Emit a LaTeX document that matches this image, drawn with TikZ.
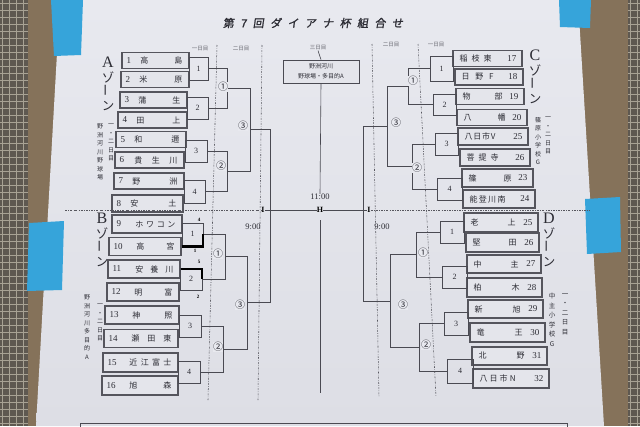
\documentclass[tikz,border=0pt]{standalone}
\usepackage{fontspec}
\newfontfamily\jp{Noto Sans CJK JP}
\newfontfamily\jpt[FakeBold=1.6,FakeSlant=0.15]{Noto Sans CJK JP}
\newfontfamily\ser{Liberation Serif}
\definecolor{posterT}{HTML}{E8E9EF}
\definecolor{posterB}{HTML}{DDDEE5}
\definecolor{boxc}{HTML}{E4E5EB}
\definecolor{linec}{HTML}{4A4A52}
\definecolor{boxl}{HTML}{55555D}
\definecolor{textc}{HTML}{2C2C34}
\definecolor{dotc}{HTML}{56565E}
\definecolor{woodc}{HTML}{85725A}
\definecolor{meshc}{HTML}{5E5850}
\definecolor{meshl}{HTML}{A8A294}
\definecolor{tapec}{HTML}{36A4DA}
\definecolor{greyt}{HTML}{66666E}
% left team: name, cx, cy, w, h, number, namewidth, text
\newcommand\lteam[8]{%
  \node[team, minimum width=#4pt, minimum height=#5pt] (#1) at (#2,#3) {};
  \node[teamnum, anchor=west] (#1n) at ([xshift=5pt]#1.west) {#6};
  \node[teamtxt, anchor=east] (#1t) at ([xshift=-7pt]#1.east) {\makebox[#7pt][s]{#8}};}
% right team
\newcommand\rteam[8]{%
  \node[team, minimum width=#4pt, minimum height=#5pt] (#1) at (#2,#3) {};
  \node[teamtxt, anchor=west] (#1t) at ([xshift=7pt]#1.west) {\makebox[#7pt][s]{#8}};
  \node[teamnum, anchor=east] (#1n) at ([xshift=-6pt]#1.east) {#6};}
\begin{document}
\begin{tikzpicture}[x=1pt,y=-1pt,
  team/.style={draw=boxl,line width=1.3pt,fill=boxc,inner sep=0pt},
  teamtxt/.style={text=textc,inner sep=0pt,font=\jp\fontsize{8}{8}\selectfont},
  teamnum/.style={text=textc,inner sep=0pt,font=\ser\fontsize{9}{9}\selectfont},
  matchb/.style={draw=linec,line width=0.6pt,inner sep=0pt,text=textc,font=\ser\fontsize{8}{8}\selectfont},
  conn/.style={draw=linec,line width=0.6pt},
  winl/.style={draw=black,line width=2.2pt},
  dotl/.style={draw=dotc,line width=0.55pt,dash pattern=on 2pt off 1.3pt on 0.6pt off 1.3pt},
  rnd/.style={text=textc,inner sep=0pt,font=\jp\fontsize{10}{10}\selectfont},
  zone/.style={text=textc,inner sep=0pt,align=center,font=\jp\fontsize{12.5}{14}\selectfont},
  venue/.style={text=textc,inner sep=0pt,align=center,font=\jp\fontsize{6}{8.5}\selectfont},
  dayl/.style={text=greyt,inner sep=0pt,font=\jp\fontsize{5.5}{5.5}\selectfont},
  timel/.style={text=textc,inner sep=0pt,font=\ser\fontsize{8.5}{8.5}\selectfont},
  marker/.style={text=black,inner sep=0pt,font=\ser\bfseries\fontsize{8}{8}\selectfont},
  score/.style={text=black,inner sep=0pt,font=\ser\bfseries\fontsize{5}{5}\selectfont}
]
\useasboundingbox (0,0) rectangle (640,426);
\clip (0,0) rectangle (640,426);
% ---------- background ----------
\fill[woodc] (0,0) rectangle (640,426);
\fill[meshc] (0,0) rectangle (28,426);
\fill[meshc] (628,0) rectangle (640,426);
\foreach \i in {2,9,...,28} {\draw[meshl,line width=0.4pt] (\i,0) -- (\i,426);}
\foreach \j in {3,10,...,426} {\draw[meshl,line width=0.4pt] (0,\j) -- (28,\j);}
\foreach \i in {630,637} {\draw[meshl,line width=0.4pt] (\i,0) -- (\i,426);}
\foreach \j in {3,10,...,426} {\draw[meshl,line width=0.4pt] (628,\j) -- (640,\j);}
\shade[top color=posterT,bottom color=posterB] (60,0) -- (578,0) -- (604,426) -- (36,426) -- cycle;
\fill[tapec] (51,0) -- (83,0) -- (81,55) -- (54,56) -- cycle;
\fill[tapec] (559,0) -- (591,0) -- (590,28) -- (560,27) -- cycle;
\fill[tapec] (29,223) -- (64,221) -- (62,290) -- (27,291) -- cycle;
\fill[tapec] (585,199) -- (620,197) -- (621,252) -- (587,254) -- cycle;
\draw[linec,line width=1pt] (80,445) -- (80,423) -- (567,423) -- (567,445);
% ---------- title, day labels ----------
\node[text=textc,inner sep=0pt,font=\jpt\fontsize{11}{11}\selectfont] (title) at (313,23)
  {\makebox[180pt][s]{第\hfill 7\hfill 回\hfill ダ\hfill イ\hfill ア\hfill ナ\hfill 杯\hfill 組\hfill 合\hfill せ}};
\node[dayl] (d1L) at (200,49) {一日目};
\node[dayl] (d2L) at (241,49) {二日目};
\node[dayl] (d3) at (318,48) {三日目};
\node[dayl] (d2R) at (391,45) {二日目};
\node[dayl] (d1R) at (436,45) {一日目};
% dotted day separators
\draw[dotl] (217,45) -- (208,400);
\draw[dotl] (262,45) -- (258,400);
\draw[dotl] (372,44) -- (379,397);
\draw[dotl] (418,44) -- (436,397);
% ---------- center box ----------
\node[draw=linec,line width=0.7pt,fill=boxc,minimum width=76pt,minimum height=23pt,inner sep=0pt,
  align=center,text=textc,font=\jp\fontsize{6}{10}\selectfont] (cbox) at (321,71.5) {野洲河川\\野球場・多目的A};
\draw[conn] (d3.south) -- (cbox.north);
\node[timel] (time11) at (320,197) {11:00};
\node[timel] (time9L) at (253,227) {9:00};
\node[timel] (time9R) at (382,227) {9:00};
\draw[conn] (cbox.south) -- (time11.north);
\coordinate (cv1) at (320,220);
\coordinate (cv2) at (320,393);
\draw[conn] (cv1) -- (cv2);
% ---------- zone labels ----------
\node[zone,anchor=north] (zA) at (108,57) {{\ser\fontsize{16}{14}\selectfont A}\\[0.5pt]ゾ\\\rotatebox{90}{ー}\\ン};
\node[zone,anchor=north] (zB) at (102,213) {{\ser\fontsize{16}{14}\selectfont B}\\[0.5pt]ゾ\\\rotatebox{90}{ー}\\ン};
\node[zone,anchor=north] (zC) at (535,50) {{\ser\fontsize{16}{14}\selectfont C}\\[0.5pt]ゾ\\\rotatebox{90}{ー}\\ン};
\node[zone,anchor=north] (zD) at (549,213) {{\ser\fontsize{16}{14}\selectfont D}\\[0.5pt]ゾ\\\rotatebox{90}{ー}\\ン};
\node[venue,anchor=north] (vnA) at (100,124) {野\\洲\\河\\川\\野\\球\\場};
\node[venue,anchor=north] (vdA) at (111,124) {一\\・\\二\\日\\目};
\node[venue,anchor=north] (vnB) at (87,295) {野\\洲\\河\\川\\多\\目\\的\\A};
\node[venue,anchor=north] (vdB) at (100,304) {一\\・\\二\\日\\目};
\node[venue,anchor=north] (vnC) at (538,117) {篠\\原\\小\\学\\校\\G};
\node[venue,anchor=north] (vdC) at (548,117) {一\\・\\二\\日\\目};
\node[venue,anchor=north,font=\jp\fontsize{6.5}{9.5}\selectfont] (vnD) at (552,293) {中\\主\\小\\学\\校\\G};
\node[venue,anchor=north,font=\jp\fontsize{6.5}{9.5}\selectfont] (vdD) at (565,293) {一\\・\\二\\日\\目};
% ---------- teams A ----------
\lteam{t1}{155.5}{60.5}{67}{15.5}{1}{42}{高\hfill 島}
\lteam{t2}{155}{79.5}{68}{15.5}{2}{43}{米\hfill 原}
\lteam{t3}{153.5}{100}{67}{16}{3}{42}{蒲\hfill 生}
\lteam{t4}{152.5}{120}{69}{16}{4}{44}{田\hfill 上}
\lteam{t5}{151}{139.5}{70}{16.5}{5}{45}{和\hfill 邇}
\lteam{t6}{149.5}{160}{69}{16}{6}{43}{貴\hfill 生\hfill 川}
\lteam{t7}{149}{181}{70}{16}{7}{45}{野\hfill 洲}
\lteam{t8}{147.5}{203.5}{71}{17}{8}{46}{安\hfill 土}
% ---------- teams B ----------
\lteam{t9}{147}{224}{70}{18}{9}{40}{ホ\hfill ワ\hfill コ\hfill ン}
\lteam{t10}{145}{246.5}{72}{18.5}{10}{38}{高\hfill 宮}
\lteam{t11}{144}{269}{72}{18}{11}{38}{安\hfill 養\hfill 川}
\lteam{t12}{143}{292}{72}{18}{12}{38}{明\hfill 富}
\lteam{t13}{142}{315}{74}{18}{13}{40}{神\hfill 照}
\lteam{t14}{141}{338.5}{74}{17.5}{14}{40}{瀬\hfill 田\hfill 東}
\lteam{t15}{140.5}{362.5}{75}{19}{15}{42}{近\hfill 江\hfill 富\hfill 士}
\lteam{t16}{140}{385.5}{76}{19}{16}{42}{旭\hfill 森}
% ---------- teams C ----------
\rteam{t17}{487.5}{58.5}{69}{15.5}{17}{32}{稲\hfill 枝\hfill 東}
\rteam{t18}{489}{77}{68}{16}{18}{32}{日\hfill 野\hfill F}
\rteam{t19}{490}{96.5}{68}{16.5}{19}{40}{物\hfill 部}
\rteam{t20}{492}{117.5}{70}{15.5}{20}{42}{八\hfill 幡}
\rteam{t21}{493}{136.5}{70}{17}{25}{31}{八\hfill 日\hfill 市\hfill V}
\rteam{t22}{495}{157.5}{70}{17}{26}{32}{菩\hfill 提\hfill 寺}
\rteam{t23}{497.5}{178}{71}{18}{23}{43}{篠\hfill 原}
\rteam{t24}{499}{199}{72}{18}{24}{36}{能\hfill 登\hfill 川\hfill 南}
% ---------- teams D ----------
\rteam{t25}{501}{222.5}{74}{19}{25}{45}{老\hfill 上}
\rteam{t26}{502.5}{242.5}{73}{19}{26}{44}{堅\hfill 田}
\rteam{t27}{504}{264}{74}{18}{27}{45}{中\hfill 主}
\rteam{t28}{504.5}{287.5}{75}{19}{28}{46}{柏\hfill 木}
\rteam{t29}{505.5}{309}{75}{18}{29}{46}{新\hfill 旭}
\rteam{t30}{507.5}{332.5}{75}{19}{30}{46}{竜\hfill 王}
\rteam{t31}{509.5}{356}{75}{18}{31}{46}{北\hfill 野}
\rteam{t32}{511}{378.5}{76}{19}{32}{36}{八\hfill 日\hfill 市\hfill N}
% ---------- match boxes ----------
\node[matchb,minimum width=19pt,minimum height=23pt] (m1) at (198.5,68.5) {1};
\node[matchb,minimum width=21pt,minimum height=22pt] (m2) at (197.5,108) {2};
\node[matchb,minimum width=22pt,minimum height=22pt] (m3) at (196,151) {3};
\node[matchb,minimum width=21pt,minimum height=23pt] (m4) at (194.5,191.5) {4};
\node[matchb,minimum width=21pt,minimum height=22pt] (m5) at (192.5,234) {1};
\node[matchb,minimum width=22pt,minimum height=22pt] (m6) at (191,279) {2};
\node[matchb,minimum width=22pt,minimum height=22pt] (m7) at (190,326) {3};
\node[matchb,minimum width=22pt,minimum height=22pt] (m8) at (189,372) {4};
\node[matchb,minimum width=23pt,minimum height=25pt] (m9) at (441.5,68.5) {1};
\node[matchb,minimum width=23pt,minimum height=21pt] (m10) at (444.5,104.5) {2};
\node[matchb,minimum width=23pt,minimum height=22pt] (m11) at (446.5,144) {3};
\node[matchb,minimum width=25pt,minimum height=22pt] (m12) at (449.5,189) {4};
\node[matchb,minimum width=24pt,minimum height=22pt] (m13) at (452,232) {1};
\node[matchb,minimum width=25pt,minimum height=22pt] (m14) at (454.5,277) {2};
\node[matchb,minimum width=24pt,minimum height=23pt] (m15) at (456,323.5) {3};
\node[matchb,minimum width=26pt,minimum height=24pt] (m16) at (460,371) {4};
% ---------- vertical positions of rounds ----------
\coordinate (vA1) at (227,0); \coordinate (vA2) at (227,0); \coordinate (vA3) at (250,0);
\coordinate (vB1) at (225,0); \coordinate (vB2) at (223,0); \coordinate (vB3) at (247,0);
\coordinate (vFL) at (270,0);
\coordinate (vC1) at (408,0); \coordinate (vC2) at (412,0); \coordinate (vC3) at (387,0);
\coordinate (vD1) at (416,0); \coordinate (vD2) at (419,0); \coordinate (vD3) at (390,0);
\coordinate (vFR) at (363,0);
% ---------- A zone ----------
\draw[conn] (m1.east) -- (m1.east -| vA1) -- (m2.east -| vA1) -- (m2.east);
\path (m1.east -| vA1) -- (m2.east -| vA1) coordinate[midway] (jA1);
\draw[conn] (m3.east) -- (m3.east -| vA2) -- (m4.east -| vA2) -- (m4.east);
\path (m3.east -| vA2) -- (m4.east -| vA2) coordinate[midway] (jA2);
\draw[conn] (jA1) -- (jA1 -| vA3) -- (jA2 -| vA3) -- (jA2);
\path (jA1 -| vA3) -- (jA2 -| vA3) coordinate[midway] (jA3);
% ---------- B zone ----------
\draw[conn] (m5.east) -- (m5.east -| vB1) -- (m6.east -| vB1) -- (m6.east);
\path (m5.east -| vB1) -- (m6.east -| vB1) coordinate[midway] (jB1);
\draw[conn] (m7.east) -- (m7.east -| vB2) -- (m8.east -| vB2) -- (m8.east);
\path (m7.east -| vB2) -- (m8.east -| vB2) coordinate[midway] (jB2);
\draw[conn] (jB1) -- (jB1 -| vB3) -- (jB2 -| vB3) -- (jB2);
\path (jB1 -| vB3) -- (jB2 -| vB3) coordinate[midway] (jB3);
% ---------- C zone ----------
\draw[conn] (m9.west) -- (m9.west -| vC1) -- (m10.west -| vC1) -- (m10.west);
\path (m9.west -| vC1) -- (m10.west -| vC1) coordinate[midway] (jC1);
\draw[conn] (m11.west) -- (m11.west -| vC2) -- (m12.west -| vC2) -- (m12.west);
\path (m11.west -| vC2) -- (m12.west -| vC2) coordinate[midway] (jC2);
\draw[conn] (jC1) -- (jC1 -| vC3) -- (jC2 -| vC3) -- (jC2);
\path (jC1 -| vC3) -- (jC2 -| vC3) coordinate[midway] (jC3);
% ---------- D zone ----------
\draw[conn] (m13.west) -- (m13.west -| vD1) -- (m14.west -| vD1) -- (m14.west);
\path (m13.west -| vD1) -- (m14.west -| vD1) coordinate[midway] (jD1);
\draw[conn] (m15.west) -- (m15.west -| vD2) -- (m16.west -| vD2) -- (m16.west);
\path (m15.west -| vD2) -- (m16.west -| vD2) coordinate[midway] (jD2);
\draw[conn] (jD1) -- (jD1 -| vD3) -- (jD2 -| vD3) -- (jD2);
\path (jD1 -| vD3) -- (jD2 -| vD3) coordinate[midway] (jD3);
% ---------- finals ----------
\draw[conn] (jA3) -- (jA3 -| vFL) -- (jB3 -| vFL) -- (jB3);
\draw[conn] (jC3) -- (jC3 -| vFR) -- (jD3 -| vFR) -- (jD3);
\node[marker] (H) at (320,210) {H};
\node[marker] (iL) at (263,210) {I};
\node[marker] (iR) at (369,210) {I};
\coordinate (dl) at (65,210);
\coordinate (dr) at (590,210);
\draw[conn] (iL.east) -- (H.west);
\draw[conn] (H.east) -- (iR.west);
\draw[dotl] (dl) -- (iL.west);
\draw[dotl] (iR.east) -- (dr);
% ---------- round labels ----------
\node[rnd,fill=posterT] (rA1) at (223,87) {①};
\node[rnd,fill=posterT] (rA2) at (221,166) {②};
\node[rnd,fill=posterT] (rA3) at (243,126) {③};
\node[rnd,fill=posterT] (rB1) at (218,254) {①};
\node[rnd,fill=posterT] (rB2) at (218,347) {②};
\node[rnd,fill=posterT] (rB3) at (240,305) {③};
\node[rnd,fill=posterT] (rC1) at (413,81) {①};
\node[rnd,fill=posterT] (rC2) at (417,168) {②};
\node[rnd,fill=posterT] (rC3) at (396,123) {③};
\node[rnd,fill=posterT] (rD1) at (423,253) {①};
\node[rnd,fill=posterT] (rD2) at (426,345) {②};
\node[rnd,fill=posterT] (rD3) at (403,305) {③};
% ---------- results in B zone ----------
\draw[winl] (t10.east) -- (t10.east -| m5.east) -- (m5.east);
\draw[winl] (t11.east) -- (t11.east -| m6.east) -- (m6.east);
\node[score] (s1) at (199,220) {4};
\node[score] (s2) at (195,251) {1};
\node[score] (s3) at (199,262) {5};
\node[score] (s4) at (198,297) {2};
\end{tikzpicture}
\end{document}
